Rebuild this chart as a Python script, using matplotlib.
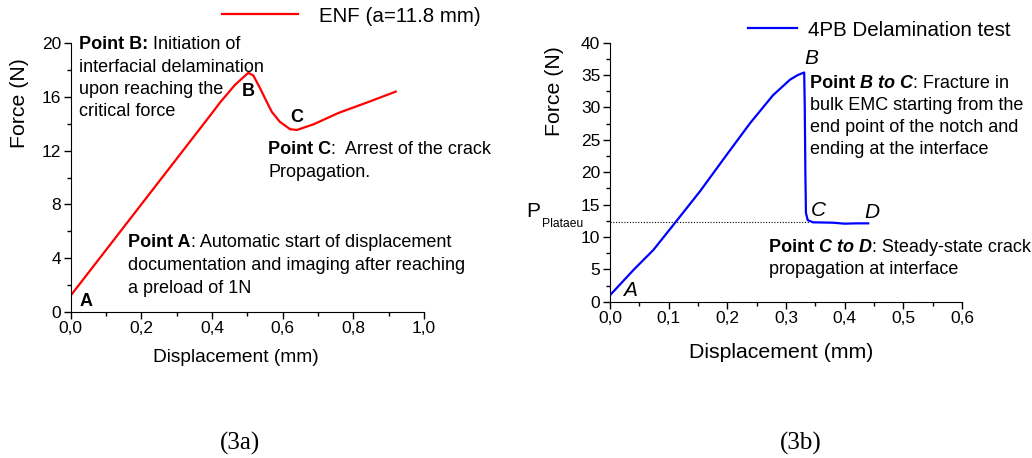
import numpy as np
import matplotlib
matplotlib.use("Agg")
import matplotlib.pyplot as plt
from matplotlib.ticker import MultipleLocator, FuncFormatter

plt.rcParams["font.family"] = ["Liberation Sans", "DejaVu Sans"]

# ENF test (3a)
enf_disp = [0.0, 0.05, 0.10, 0.15, 0.20, 0.25, 0.30, 0.35, 0.40, 0.423,
            0.465, 0.49, 0.503, 0.517, 0.536, 0.55, 0.569, 0.592, 0.621,
            0.64, 0.687, 0.757, 0.85, 0.92]
enf_force = [1.2, 2.9, 4.6, 6.3, 8.0, 9.7, 11.4, 13.1, 14.8, 15.6,
             16.9, 17.5, 17.8, 17.6, 16.65, 15.9, 14.9, 14.15, 13.6,
             13.54, 13.96, 14.8, 15.7, 16.4]

# 4PB delamination test (3b)
pb_disp = [0.0, 0.04, 0.074, 0.111, 0.153, 0.199, 0.239, 0.278, 0.307,
           0.32, 0.331, 0.332, 0.333, 0.334, 0.337, 0.346, 0.38, 0.40,
           0.42, 0.44]
pb_force = [1.0, 4.9, 8.0, 12.2, 17.0, 22.7, 27.6, 31.9, 34.3,
            35.0, 35.4, 30.0, 20.0, 13.7, 12.6, 12.26, 12.2, 12.05,
            12.1, 12.1]
p_plateau = 12.26

W, H = 1032, 458
fig = plt.figure(figsize=(W / 100, H / 100), dpi=100)
renderer = fig.canvas.get_renderer()


def fx(x):
    return x / W


def fy(y):
    return 1 - y / H


def comma(v, pos):
    return f"{v:.1f}".replace(".", ",")


def style_axes(ax):
    for s in ["top", "right"]:
        ax.spines[s].set_visible(False)
    ax.tick_params(which="major", direction="out", length=5, width=1,
                   labelsize=12.5, pad=2)
    ax.tick_params(which="minor", direction="out", length=3, width=1)


def rich_line(x, y, parts, size=13):
    # jeden radek textu slozeny z casti s ruznym rezem pisma
    cur = x
    for txt, weight, style in parts:
        t = fig.text(fx(cur), fy(y), txt, fontsize=size, fontweight=weight,
                     fontstyle=style, ha="left", va="baseline")
        cur = t.get_window_extent(renderer).x1


N = ("normal", "normal")
B = ("bold", "normal")
BI = ("bold", "italic")

# ---- levy graf (3a)
ax1 = fig.add_axes([fx(70.7), fy(311.7), fx(424 - 70.7), (311.7 - 43.3) / H])
ax1.plot(enf_disp, enf_force, color="red", lw=1.6, label="ENF (a=11.8 mm)")
ax1.set_xlim(0, 1.0)
ax1.set_ylim(0, 20)
ax1.xaxis.set_major_locator(MultipleLocator(0.2))
ax1.xaxis.set_minor_locator(MultipleLocator(0.1))
ax1.yaxis.set_major_locator(MultipleLocator(4))
ax1.yaxis.set_minor_locator(MultipleLocator(2))
ax1.xaxis.set_major_formatter(FuncFormatter(comma))
style_axes(ax1)
ax1.legend(loc="center left", bbox_to_anchor=(fx(222), fy(16)),
           bbox_transform=fig.transFigure, frameon=False, fontsize=14.8,
           handlelength=3.7, handletextpad=1.0, borderpad=0, borderaxespad=0)

fig.text(fx(20), fy(103), "Force (N)", rotation=90, fontsize=15.3,
         ha="center", va="center")
fig.text(fx(236), fy(357), "Displacement (mm)", fontsize=13.8,
         ha="center", va="center")

rich_line(79, 49.2, [("Point B:", *B), (" Initiation of", *N)])
rich_line(79, 71.5, [("interfacial delamination", *N)])
rich_line(79, 93.8, [("upon reaching the", *N)])
rich_line(79, 116.5, [("critical force", *N)])
fig.text(fx(248.5), fy(92), "B", fontsize=13, fontweight="bold",
         ha="center", va="center")
fig.text(fx(297), fy(117.5), "C", fontsize=13, fontweight="bold",
         ha="center", va="center")
rich_line(268, 154.2, [("Point C", *B), (":  Arrest of the crack", *N)])
rich_line(268, 177.5, [("Propagation.", *N)])
rich_line(128.3, 247.2, [("Point A", *B),
                         (": Automatic start of displacement", *N)])
rich_line(128.3, 270.5, [("documentation and imaging after reaching", *N)])
rich_line(128.3, 293.2, [("a preload of 1N", *N)])
fig.text(fx(86), fy(302), "A", fontsize=13, fontweight="bold",
         ha="center", va="center")

# ---- pravy graf (3b)
ax2 = fig.add_axes([fx(610), fy(301.7), fx(962 - 610), (301.7 - 42.7) / H])
ax2.plot(pb_disp, pb_force, color="blue", lw=1.6, label="4PB Delamination test")
ax2.plot([0, 0.34], [p_plateau, p_plateau], color="black", lw=0.8,
         ls=(0, (1, 1.5)))
ax2.set_xlim(0, 0.6)
ax2.set_ylim(0, 40)
ax2.xaxis.set_major_locator(MultipleLocator(0.1))
ax2.xaxis.set_minor_locator(MultipleLocator(0.05))
ax2.yaxis.set_major_locator(MultipleLocator(5))
ax2.yaxis.set_minor_locator(MultipleLocator(2.5))
ax2.xaxis.set_major_formatter(FuncFormatter(comma))
style_axes(ax2)
handles, labels = ax2.get_legend_handles_labels()
ax2.legend(handles[:1], labels[:1], loc="center left",
           bbox_to_anchor=(fx(748), fy(30)), bbox_transform=fig.transFigure,
           frameon=False, fontsize=14.8, handlelength=2.4, handletextpad=0.5,
           borderpad=0, borderaxespad=0)

fig.text(fx(555), fy(91), "Force (N)", rotation=90, fontsize=15.3,
         ha="center", va="center")
fig.text(fx(781), fy(352), "Displacement (mm)", fontsize=15.3,
         ha="center", va="center")
fig.text(fx(540), fy(211.5), "P", fontsize=15, ha="right", va="center")
fig.text(fx(542), fy(223.5), "Plataeu", fontsize=8.7, ha="left", va="center")

fig.text(fx(811.5), fy(58.3), "B", fontsize=15, fontstyle="italic",
         ha="center", va="center")
fig.text(fx(818), fy(210.7), "C", fontsize=15, fontstyle="italic",
         ha="center", va="center")
fig.text(fx(872), fy(212.5), "D", fontsize=15, fontstyle="italic",
         ha="center", va="center")
fig.text(fx(630), fy(291), "A", fontsize=15, fontstyle="italic",
         ha="center", va="center")
rich_line(810, 87.5, [("Point ", *B), ("B to C", *BI), (": Fracture in", *N)])
rich_line(810, 109.8, [("bulk EMC starting from the", *N)])
rich_line(810, 132.2, [("end point of the notch and", *N)])
rich_line(810, 154.2, [("ending at the interface", *N)])
rich_line(769.3, 251.5, [("Point ", *B), ("C to D", *BI),
                         (": Steady-state crack", *N)])
rich_line(769.3, 273.8, [("propagation at interface", *N)])

# popisky obrazku
fig.text(fx(240), fy(443), "(3a)", fontsize=18, family="Liberation Serif",
         ha="center", va="center")
fig.text(fx(801), fy(443), "(3b)", fontsize=18, family="Liberation Serif",
         ha="center", va="center")

fig.savefig("out.png", dpi=100)
